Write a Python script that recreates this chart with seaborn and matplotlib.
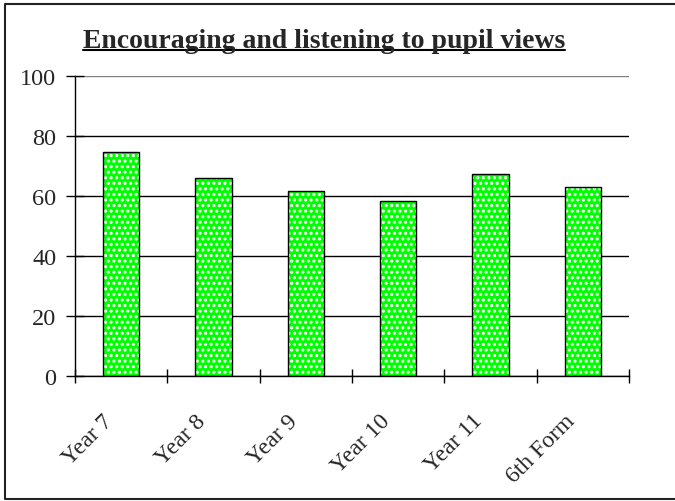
import matplotlib
matplotlib.use("Agg")
import matplotlib.pyplot as plt
import matplotlib.transforms as mtransforms
from matplotlib.lines import Line2D
import pandas as pd
import seaborn as sns

# chart data
groups = ["Year 7", "Year 8", "Year 9", "Year 10", "Year 11", "6th Form"]
scores = [74.6, 66.0, 61.6, 58.2, 67.3, 62.9]
y_ticks = [0, 20, 40, 60, 80, 100]
title = "Encouraging and listening to pupil views"

df = pd.DataFrame({"group": groups, "score": scores})

sns.set_style("white")
plt.rcParams["font.family"] = ["Liberation Serif", "DejaVu Serif"]
plt.rcParams["hatch.linewidth"] = 1.5

fig = plt.figure(figsize=(6.75, 5.02), dpi=100)
ax = fig.add_axes([75 / 675, 125 / 502, 554 / 675, 300 / 502])

# green fill with white dotted hatch, then the black outline on top
sns.barplot(data=df, x="group", y="score", color="#00ff00", saturation=1,
            width=0.39, edgecolor="white", linewidth=0, hatch="...", ax=ax)
sns.barplot(data=df, x="group", y="score", facecolor="none", saturation=1,
            width=0.39, edgecolor="black", linewidth=1.0, ax=ax)

ax.set_xlim(-0.5, len(groups) - 0.5)
ax.set_ylim(0, 100)
ax.set_yticks(y_ticks)
ax.set_yticklabels([str(t) for t in y_ticks], fontsize=17.5)
ax.set_xlabel("")
ax.set_ylabel("")

ax.yaxis.grid(True, color="black", linewidth=1.0)
ax.get_ygridlines()[-1].set_color("#808080")
ax.set_axisbelow(True)

for side in ["top", "right"]:
    ax.spines[side].set_visible(False)
for side in ["left", "bottom"]:
    ax.spines[side].set_color("black")
    ax.spines[side].set_linewidth(1.0)

ax.tick_params(axis="y", direction="inout", length=13, width=1, color="black", pad=7, left=True)

# category boundary ticks, labels rotated under each bar
ax.set_xticks([i - 0.5 for i in range(len(groups) + 1)], minor=True)
ax.tick_params(axis="x", which="minor", direction="inout", length=10, width=1, color="black", bottom=True)
ax.tick_params(axis="x", which="major", length=0, pad=0)
ax.set_xticks(range(len(groups)))
ax.set_xticklabels(groups, fontsize=17, rotation=45, ha="right", va="top", rotation_mode="anchor")
offset = mtransforms.ScaledTranslation(-19 / 100, -34 / 100, fig.dpi_scale_trans)
for lab in ax.get_xticklabels():
    lab.set_transform(lab.get_transform() + offset)

# bold underlined title
base_y = 1 - 48 / 502
t = fig.text(324 / 675, base_y, title, ha="center", va="baseline",
             fontsize=20, fontweight="bold")
fig.canvas.draw()
bb = t.get_window_extent(renderer=fig.canvas.get_renderer())
uy = base_y - 3 / 502
fig.add_artist(Line2D([bb.x0 / 675, bb.x1 / 675], [uy, uy],
                      color="black", linewidth=1.5, transform=fig.transFigure))

# chart area border (right edge falls outside the picture)
bx0, by0, by1 = 5 / 675, 2 / 502, 1 - 5 / 502
fig.add_artist(Line2D([1.01, bx0, bx0, 1.01], [by1, by1, by0, by0],
                      color="#222222", linewidth=1.5, transform=fig.transFigure))

fig.savefig("out.png", dpi=100)
